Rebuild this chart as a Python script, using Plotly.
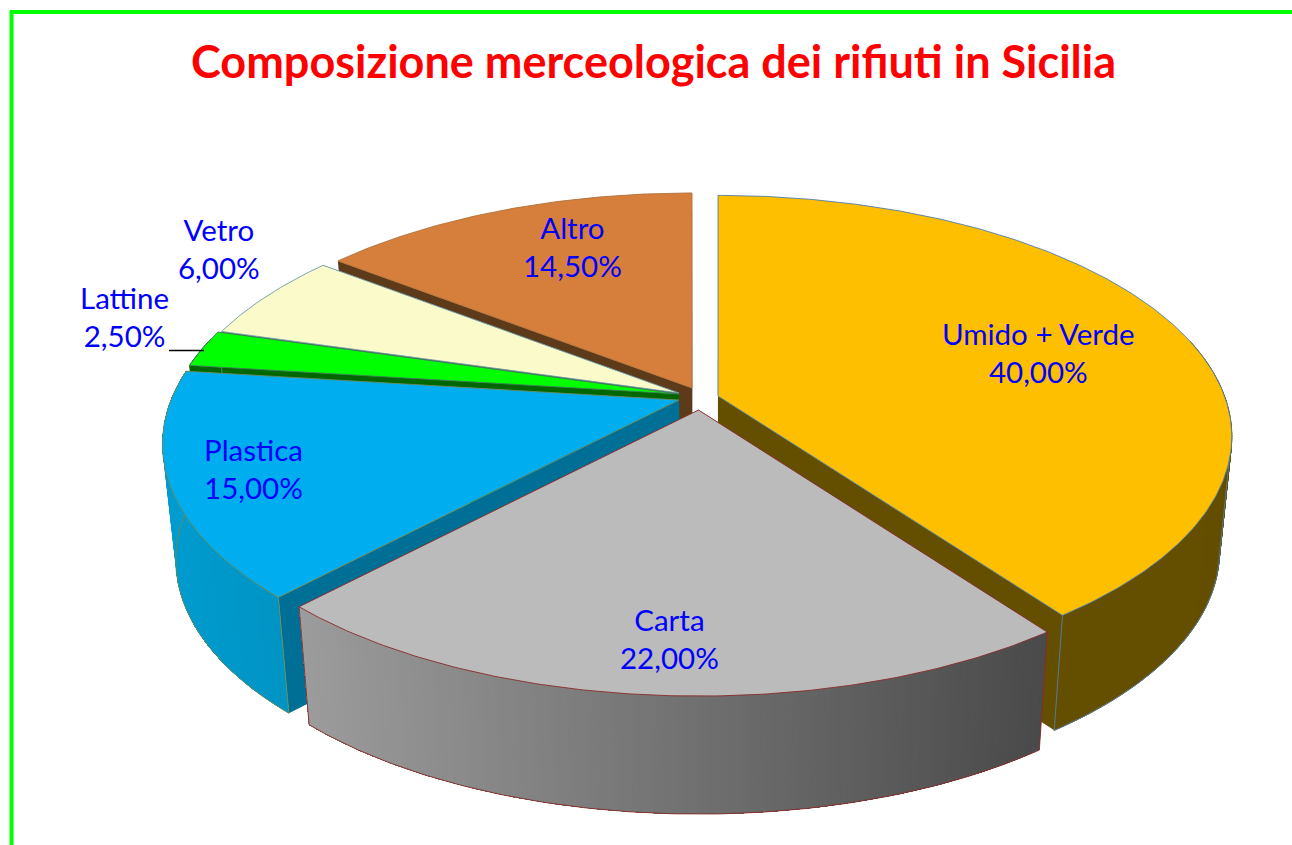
import numpy as np
import plotly.graph_objects as go

categories = ["Umido + Verde", "Carta", "Plastica", "Lattine", "Vetro", "Altro"]
values = [40.0, 22.0, 15.0, 2.5, 6.0, 14.5]
value_labels = ["40,00%", "22,00%", "15,00%", "2,50%", "6,00%", "14,50%"]
title_text = "Composizione merceologica dei rifiuti in Sicilia"

top_colors = ["#FDBF00", "#BBBBBB", "#00AEEF", "#00FF00", "#FBFACB", "#D67F3C"]
edge_colors = ["#4F7FA8", "#8A2A2A", "#6C8A50", "#3F7F5F", "#6C9AA8", "#B07038"]
radial_colors = ["#644E00", "#4A4A4A", "#006F95", "#006600", "#5F5F5F", "#5C3A1A"]
wall_left = ["#644E00", "#9C9C9C", "#009CD0", "#006600", "#5F5F5F", "#5C3A1A"]
wall_right = ["#644E00", "#4A4A4A", "#0094C4", "#006600", "#5F5F5F", "#5C3A1A"]
apex_x = [718, 698.5, 679, 679, 679, 692]
apex_y = [396, 410, 400, 394, 393, 388]
slice_scale = [0.997, 0.997, 1.0, 0.993, 0.985, 0.98]
slice_k = [0.168, 0.181, 0.181, 0.181, 0.181, 0.181]
slice_depth = [115.0, 118.0, 116.0, 116.0, 116.0, 116.0]
label_xy = [(1038, 352), (669, 638), (253, 468), (124, 316), (219, 248), (572, 246)]

RX, RY = 508.0, 235.0
SHRINK, VX = 0.976, 716.0


def proj(ax, ay, deg, s, k):
    t = np.radians(deg)
    u, v = np.sin(t), -np.cos(t)
    d = 1 - k * v
    return ax + s * RX * u / d, ay + s * RY * v / d


def down(x, y, depth):
    return VX + (np.asarray(x) - VX) * SHRINK, np.asarray(y) + depth


def mix(a, b, f):
    ca = [int(a[i:i + 2], 16) for i in (1, 3, 5)]
    cb = [int(b[i:i + 2], 16) for i in (1, 3, 5)]
    return "rgb(%d,%d,%d)" % tuple(round(p + (q - p) * f) for p, q in zip(ca, cb))


fig = go.Figure()


def poly(xs, ys, color, name, line=None, width=0.0):
    fig.add_trace(go.Scatter(
        x=list(xs), y=list(ys), mode="lines", fill="toself", fillcolor=color,
        line=dict(color=line or color, width=width if line else 0),
        hoverinfo="text", text=name, showlegend=False))


def outline(xs, ys, color, width=0.9):
    fig.add_trace(go.Scatter(
        x=list(xs), y=list(ys), mode="lines", line=dict(color=color, width=width),
        hoverinfo="skip", showlegend=False))


starts = np.concatenate(([0.0], np.cumsum(values)[:-1])) * 3.6
ends = np.cumsum(values) * 3.6
for i in [5, 4, 3, 2, 0, 1]:
    name = f"{categories[i]} {value_labels[i]}"
    ax, ay = apex_x[i], apex_y[i]
    angles = np.linspace(starts[i], ends[i], max(12, int(values[i] * 6)))
    ox, oy = proj(ax, ay, angles, slice_scale[i], slice_k[i])
    bx, by = down(ox, oy, slice_depth[i])
    abx, aby = down(ax, ay, slice_depth[i])
    # radial faces
    poly([ax, ox[0], bx[0], abx, ax], [ay, oy[0], by[0], aby, ay], radial_colors[i], name)
    poly([ax, ox[-1], bx[-1], abx, ax], [ay, oy[-1], by[-1], aby, ay], radial_colors[i], name)
    # outer wall: only the part that faces the viewer
    idx = np.where(np.cos(np.radians(angles)) < 0.25)[0]
    if len(idx) > 1:
        xmin, xmax = ox[idx].min(), ox[idx].max()
        if wall_left[i] == wall_right[i]:
            xs, ys = [], []
            for a, b in zip(idx[:-1], idx[1:]):
                xs += [ox[a], ox[b], bx[b], bx[a], ox[a], None]
                ys += [oy[a], oy[b], by[b], by[a], oy[a], None]
            fig.add_trace(go.Scatter(x=xs, y=ys, mode="lines", fill="toself",
                                     fillcolor=wall_left[i],
                                     line=dict(color=wall_left[i], width=1),
                                     hoverinfo="text", text=name, showlegend=False))
        else:
            for a in idx[:-1]:
                f = (ox[a] - xmin) / max(xmax - xmin, 1)
                poly(np.r_[ox[a:], bx[a:][::-1], ox[a]], np.r_[oy[a:], by[a:][::-1], oy[a]],
                     mix(wall_left[i], wall_right[i], f), name)
        j = max(idx[0], int(np.argmax(ox)))
        outline(np.r_[ox[j], bx[j:], ox[-1]], np.r_[oy[j], by[j:], oy[-1]], edge_colors[i])
    # top
    poly(np.r_[ax, ox, ax], np.r_[ay, oy, ay], top_colors[i], name, edge_colors[i], 0.9)

shapes = [
    dict(type="line", x0=10, x1=1292, y0=12, y1=12, line=dict(color="#00FF00", width=4)),
    dict(type="line", x0=11.5, x1=11.5, y0=10, y1=845, line=dict(color="#00FF00", width=4)),
    dict(type="line", x0=169, x1=204, y0=350.5, y1=350.5, line=dict(color="#000000", width=1.5)),
]
annotations = [
    dict(x=653, y=61, text=f"<b>{title_text}</b>", showarrow=False,
         font=dict(family="Lato, Open Sans, sans-serif", size=45, color="#FF0000"))
]
for c, v, (lx, ly) in zip(categories, value_labels, label_xy):
    annotations.append(dict(x=lx, y=ly, text=f"{c}<br>{v}", showarrow=False, align="center",
                            font=dict(family="Lato, Open Sans, sans-serif", size=29.5, color="#0000FF")))

fig.update_layout(
    width=1292, height=845, margin=dict(l=0, r=0, t=0, b=0),
    paper_bgcolor="#FFFFFF", plot_bgcolor="#FFFFFF", showlegend=False,
    xaxis=dict(range=[0, 1292], visible=False, fixedrange=True),
    yaxis=dict(range=[845, 0], visible=False, fixedrange=True),
    shapes=shapes, annotations=annotations,
)
fig.write_html("out.html", config={"displayModeBar": False},
               post_script="document.documentElement.style.overflow='hidden';document.body.style.margin='0';")
